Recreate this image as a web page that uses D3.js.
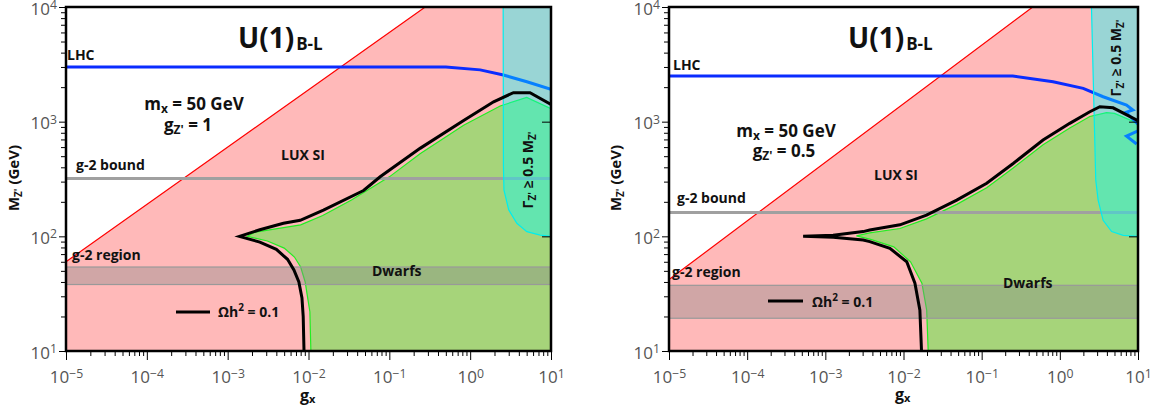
<!DOCTYPE html>
<html><head><meta charset="utf-8">
<script src="https://cdnjs.cloudflare.com/ajax/libs/d3/7.8.5/d3.min.js"></script>
<style>body{margin:0;background:#fff;} svg{display:block;}</style>
</head><body><svg id="c" width="1159" height="417"></svg>
<script>
// ---------- data ----------
const xTickExps = [-5, -4, -3, -2, -1, 0, 1];
const yTickExps = [1, 2, 3, 4];
const xDomain = [1e-5, 10];
const yDomain = [10, 1e4];
const minorMult = [2, 3, 4, 5, 6, 7, 8, 9];

// Left panel: g_Z' = 1
const gzLeft = "1";
const luxLeft = [[1e-5,10],[1e-5,60],[0.278,1e4],[10,1e4],[10,10]];
const dwarfsLeft = [[1.07e-2,10],[1.04e-2,22],[9.7e-3,30],[9.1e-3,40],[8.0e-3,54],[6.7e-3,66],[5.0e-3,79],[3.1e-3,91],[1.75e-3,100],[2.2e-3,109],[4.9e-3,119],[8.0e-3,126],[1.5e-2,152],[3.4e-2,207],[0.1,330],[0.24,525],[0.83,930],[2.35,1370],[5.0,1630],[10,1300],[10,10]];
const relicLeft = [[8.8e-3,10],[8.6e-3,20],[8.3e-3,29],[7.6e-3,40],[6.6e-3,51],[5.5e-3,63],[4.0e-3,77],[2.5e-3,89],[1.4e-3,100],[2.5e-3,114],[4.9e-3,130],[7.9e-3,138],[1.53e-2,169],[4.8e-2,251],[0.077,331],[0.24,585],[0.83,1024],[1.95,1490],[3.43,1790],[5.5,1790],[10,1410]];
const lhcLeft = [[1e-5,3000],[0.5,3000],[1.33,2830],[2.58,2550],[5.03,2230],[10,1915]];
const widthLeft = [[2.56,1e4],[2.58,400],[2.62,253],[3.0,170],[3.78,130],[5.03,110],[7.35,102.5],[10,100],[10,1e4]];
const g2BoundLeft = 320;
const g2BandLeft = [38, 54];

// Right panel: g_Z' = 0.5
const gzRight = "0.5";
const luxRight = [[1e-5,10],[1e-5,42],[0.45,1e4],[10,1e4],[10,10]];
const dwarfsRight = [[0.0207,10],[0.0198,22.7],[0.0172,39],[0.0123,60],[7.5e-3,81],[3.8e-3,94],[2.5e-3,101],[3.7e-3,107],[9e-3,117],[0.0197,142],[0.048,190],[0.116,265],[0.253,395],[0.61,630],[1.34,880],[2.42,1110],[3.95,1200],[5,1180],[10,965],[10,10]];
const relicRight = [[0.017,10],[0.0162,22.7],[0.014,39],[0.011,60],[6.7e-3,78.5],[3.7e-3,90],[3.05e-3,93],[1.26e-3,98.4],[5.2e-4,100],[1.26e-3,102],[3.05e-3,110],[3.7e-3,113.6],[9e-3,126],[0.0197,153],[0.048,207],[0.116,290],[0.253,432],[0.61,692],[1.34,967],[2.42,1220],[3.25,1350],[4.8,1320],[10,1020]];
const lhcRight = [[1e-5,2500],[0.25,2500],[0.82,2230],[1.99,1950],[3.58,1650],[7.13,1396],[8.6,1265],[7.0,1205],[10,950]];
const lhcRight2 = [[10,830],[7.13,748],[9.6,638]];
const widthRight = [[2.54,1e4],[2.88,310],[3.09,207],[3.58,138],[4.6,110],[6.46,102],[10,100],[10,1e4]];
const g2BoundRight = 161;
const g2BandRight = [19.3, 37.4];

// ---------- layout ----------
const panels = [
  { id: "L", x0: 66, x1: 551, gz: gzLeft, lux: luxLeft, dwarfs: dwarfsLeft, relic: relicLeft,
    lhc: [lhcLeft], width: widthLeft, bound: g2BoundLeft, band: g2BandLeft,
    t: { title: [238, 48], lhc: [67, 60], mx: [194, 110], gzp: [188, 131], bound: [76, 170],
         lux: [281, 160], region: [72, 260], dwarfs: [372, 276], leg: [176, 210, 312, 218, 317],
         gamma: [528, 170], ylab: [14, 178], xlab: [300, 401] } },
  { id: "R", x0: 669, x1: 1138, gz: gzRight, lux: luxRight, dwarfs: dwarfsRight, relic: relicRight,
    lhc: [lhcRight, lhcRight2], width: widthRight, bound: g2BoundRight, band: g2BandRight,
    t: { title: [848, 48], lhc: [673, 70], mx: [786, 137], gzp: [784, 157], bound: [677, 203],
         lux: [874, 180], region: [672, 277], dwarfs: [1003, 288], leg: [768, 803, 301, 812, 306.5],
         gamma: [1116, 58], ylab: [616, 178], xlab: [895, 400] } }
];
const yTop = 7, yBot = 351;
const FONT = "'Open Sans', 'DejaVu Sans', sans-serif";

const svg = d3.select("#c");
const defs = svg.append("defs");

panels.forEach(p => {
  const x = d3.scaleLog().domain(xDomain).range([p.x0, p.x1]);
  const y = d3.scaleLog().domain(yDomain).range([yBot, yTop]);
  const line = d3.line().x(d => x(d[0])).y(d => y(d[1]));
  const area = d3.line().x(d => x(d[0])).y(d => y(d[1])).curve(d3.curveLinearClosed);

  defs.append("clipPath").attr("id", "clip" + p.id)
    .append("rect").attr("x", p.x0).attr("y", yTop).attr("width", p.x1 - p.x0).attr("height", yBot - yTop);

  const g = svg.append("g").attr("clip-path", `url(#clip${p.id})`);

  g.append("path").attr("d", area(p.lux)).attr("fill", "#ffb9b9").attr("stroke", "#ff0000").attr("stroke-width", 1.2);
  g.append("path").attr("d", area(p.dwarfs)).attr("fill", "#a6d47a").attr("stroke", "#22ee22").attr("stroke-width", 1.2);
  g.append("rect").attr("x", x(xDomain[0])).attr("width", x(xDomain[1]) - x(xDomain[0]))
    .attr("y", y(p.band[1])).attr("height", y(p.band[0]) - y(p.band[1]))
    .attr("fill", "#8a8a8a").attr("fill-opacity", 0.4).attr("stroke", "#999").attr("stroke-width", 1.2);
  g.append("path").attr("d", line([[xDomain[0], p.bound], [xDomain[1], p.bound]]))
    .attr("stroke", "#a0a0a0").attr("stroke-width", 3).attr("fill", "none");
  p.lhc.forEach(seg => g.append("path").attr("d", line(seg)).attr("stroke", "#0a2cff")
    .attr("stroke-width", 3).attr("fill", "none").attr("stroke-linejoin", "miter"));
  g.append("path").attr("d", area(p.width)).attr("fill", "#00ffff").attr("fill-opacity", 0.4)
    .attr("stroke", "#00eeee").attr("stroke-width", 1.2);
  g.append("path").attr("d", line(p.relic)).attr("stroke", "#000").attr("stroke-width", 3)
    .attr("fill", "none").attr("stroke-linejoin", "miter").attr("stroke-miterlimit", 20);

  const xMaj = xTickExps.map(e => Math.pow(10, e));
  const xMin = [];
  xTickExps.slice(0, -1).forEach(e => minorMult.forEach(m => xMin.push(m * Math.pow(10, e))));
  const yMaj = yTickExps.map(e => Math.pow(10, e));
  const yMin = [];
  yTickExps.slice(0, -1).forEach(e => minorMult.forEach(m => yMin.push(m * Math.pow(10, e))));

  const fmtSup = (sel) => {
    sel.selectAll(".tick text").each(function(d) {
      const t = d3.select(this);
      const e = Math.round(Math.log10(d));
      t.text(null).attr("font-family", FONT).attr("font-size", 17).attr("fill", "#555");
      t.append("tspan").text("10");
      t.append("tspan").attr("dy", "-0.45em").attr("font-size", "0.72em").text(e < 0 ? "\u2212" + (-e) : String(e));
    });
  };

  const ax = svg.append("g").attr("transform", `translate(0,${yBot})`);
  ax.call(d3.axisBottom(x).tickValues(xMin).tickSize(5).tickFormat(""));
  ax.call(g0 => g0.select(".domain").remove());
  const axM = svg.append("g").attr("transform", `translate(0,${yBot})`);
  axM.call(d3.axisBottom(x).tickValues(xMaj).tickSize(9).tickPadding(11).tickFormat(d => d));
  axM.call(g0 => g0.select(".domain").remove());
  fmtSup(axM);

  const ay = svg.append("g").attr("transform", `translate(${p.x0},0)`);
  ay.call(d3.axisLeft(y).tickValues(yMin).tickSize(5).tickFormat(""));
  ay.call(g0 => g0.select(".domain").remove());
  const ayM = svg.append("g").attr("transform", `translate(${p.x0},0)`);
  ayM.call(d3.axisLeft(y).tickValues(yMaj).tickSize(7).tickPadding(2).tickFormat(d => d));
  ayM.call(g0 => g0.select(".domain").remove());
  fmtSup(ayM);
  ayM.selectAll(".tick text").attr("dy", "0.42em");

  const ayr = svg.append("g").attr("transform", `translate(${p.x1},0)`);
  ayr.call(d3.axisRight(y).tickValues(yMin).tickSize(-5).tickFormat(""));
  ayr.call(d3.axisRight(y).tickValues(yMaj).tickSize(-9).tickFormat(""));
  ayr.call(g0 => g0.selectAll(".domain").remove());

  svg.selectAll(".tick line").attr("stroke", "#000");

  svg.append("rect").attr("x", p.x0).attr("y", yTop).attr("width", p.x1 - p.x0).attr("height", yBot - yTop)
    .attr("fill", "none").attr("stroke", "#000").attr("stroke-width", 2.5);

  const T = p.t;
  const txt = (pos, size, anchor) => svg.append("text").attr("x", pos[0]).attr("y", pos[1])
    .attr("font-family", FONT).attr("font-weight", "bold").attr("font-size", size)
    .attr("text-anchor", anchor || "start").attr("fill", "#111");

  const tt = txt(T.title, 28);
  tt.append("tspan").text("U(1)");
  tt.append("tspan").attr("font-size", 17).attr("dy", 2).attr("dx", 2).text("B-L");

  txt(T.lhc, 14).text("LHC");
  const mx = txt(T.mx, 17, "middle");
  mx.append("tspan").text("m");
  mx.append("tspan").attr("font-size", 12).attr("dy", 3).text("x");
  mx.append("tspan").attr("dy", -3).text(" = 50 GeV");
  const gz = txt(T.gzp, 17, "middle");
  gz.append("tspan").text("g");
  gz.append("tspan").attr("font-size", 12).attr("dy", 3).text("Z'");
  gz.append("tspan").attr("dy", -3).text(" = " + p.gz);

  txt(T.bound, 14).text("g-2 bound");
  txt(T.lux, 14).text("LUX SI");
  txt(T.region, 14).text("g-2 region");
  txt(T.dwarfs, 14).text("Dwarfs");

  svg.append("line").attr("x1", T.leg[0]).attr("x2", T.leg[1]).attr("y1", T.leg[2]).attr("y2", T.leg[2])
    .attr("stroke", "#000").attr("stroke-width", 3);
  const lg = txt([T.leg[3], T.leg[4]], 14);
  lg.append("tspan").text("\u03A9h");
  lg.append("tspan").attr("font-size", 10).attr("dy", -6).text("2");
  lg.append("tspan").attr("dy", 6).text(" = 0.1");

  const gm = svg.append("text").attr("transform", `translate(${T.gamma[0]},${T.gamma[1]}) rotate(-90)`)
    .attr("font-family", FONT).attr("font-weight", "bold").attr("font-size", 14)
    .attr("text-anchor", "middle").attr("dy", "0.35em").attr("fill", "#111");
  gm.append("tspan").text("\u0393");
  gm.append("tspan").attr("font-size", 10).attr("dy", 3).text("Z'");
  gm.append("tspan").attr("dy", -3).text(" \u2265 0.5 M");
  gm.append("tspan").attr("font-size", 10).attr("dy", 3).text("Z'");

  const yl = svg.append("text").attr("transform", `translate(${T.ylab[0]},${T.ylab[1]}) rotate(-90)`)
    .attr("font-family", FONT).attr("font-weight", "bold").attr("font-size", 15)
    .attr("text-anchor", "middle").attr("dy", "0.35em").attr("fill", "#111");
  yl.append("tspan").text("M");
  yl.append("tspan").attr("font-size", 10).attr("dy", 3).text("Z'");
  yl.append("tspan").attr("dy", -3).text(" (GeV)");

  const xl = txt(T.xlab, 16);
  xl.append("tspan").text("g");
  xl.append("tspan").attr("font-size", 11).attr("dy", 2).text("x");
});
</script></body></html>
